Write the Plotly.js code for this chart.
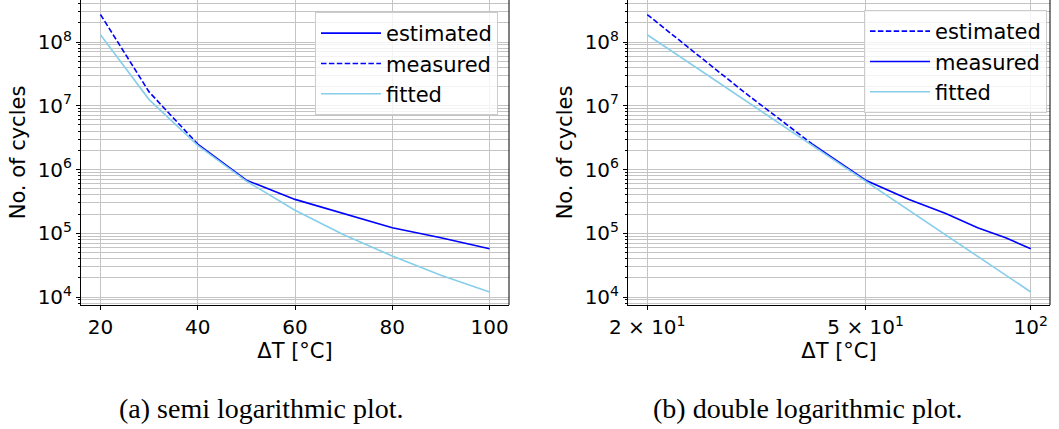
<!DOCTYPE html>
<html>
<head>
<meta charset="utf-8">
<script src="https://cdn.plot.ly/plotly-3.0.1.min.js"></script>
<style>
html,body{margin:0;padding:0;background:#fff;}
#chart{width:1059px;height:429px;}
</style>
</head>
<body>
<div id="chart"></div>
<script>
// Data
const deltaT = [20, 30, 40, 50, 60, 70, 80, 90, 100];
const cyclesData = [2.7e8, 1.65e7, 2.5e6, 6.8e5, 3.4e5, 2.05e5, 1.22e5, 8.5e4, 5.7e4];
const cyclesFitted = [1.3e8, 1.25e7, 2.4e6, 6.6e5, 2.3e5, 9.5e4, 4.4e4, 2.2e4, 1.2e4];
const splitIndex = 2; // dashed part covers deltaT[0..2], solid part deltaT[2..]

const yTickVals = [1e4, 1e5, 1e6, 1e7, 1e8];
const yTickText = ['10<sup>4</sup>', '10<sup>5</sup>', '10<sup>6</sup>', '10<sup>7</sup>', '10<sup>8</sup>'];
const xTickValsLin = [20, 40, 60, 80, 100];
const xTickTextLin = ['20', '40', '60', '80', '100'];
const xTickValsLog = [20, 50, 100];
const xTickTextLog = ['2 × 10<sup>1</sup>', '5 × 10<sup>1</sup>', '10<sup>2</sup>'];
const captions = ['(a) semi logarithmic plot.', '(b) double logarithmic plot.'];

const W = 1059, H = 429;
const BLUE = '#0000ff', SKY = '#87ceeb';
const DASH = '5.5px,2.4px';

const tHead = deltaT.slice(0, splitIndex + 1), dHead = cyclesData.slice(0, splitIndex + 1);
const tTail = deltaT.slice(splitIndex), dTail = cyclesData.slice(splitIndex);

const traces = [
  // left (semi log)
  {x: tTail, y: dTail, name: 'estimated', mode: 'lines', line: {color: BLUE, width: 1.6}, xaxis: 'x', yaxis: 'y', legend: 'legend'},
  {x: tHead, y: dHead, name: 'measured', mode: 'lines', line: {color: BLUE, width: 1.6, dash: DASH}, xaxis: 'x', yaxis: 'y', legend: 'legend'},
  {x: deltaT, y: cyclesFitted, name: 'fitted', mode: 'lines', line: {color: SKY, width: 1.6}, xaxis: 'x', yaxis: 'y', legend: 'legend'},
  // right (double log)
  {x: tHead, y: dHead, name: 'estimated', mode: 'lines', line: {color: BLUE, width: 1.6, dash: DASH}, xaxis: 'x2', yaxis: 'y2', legend: 'legend2'},
  {x: tTail, y: dTail, name: 'measured', mode: 'lines', line: {color: BLUE, width: 1.6}, xaxis: 'x2', yaxis: 'y2', legend: 'legend2'},
  {x: deltaT, y: cyclesFitted, name: 'fitted', mode: 'lines', line: {color: SKY, width: 1.6}, xaxis: 'x2', yaxis: 'y2', legend: 'legend2'}
];

const FONT = 'DejaVu Sans, sans-serif';
const GRID = '#c4c4c4';
const yBottom = 1 - 305 / H;
const dL = [81 / W, 509 / W];
const dR = [628 / W, 1050 / W];

function yAxis(anchor) {
  return {
    type: 'log', range: [3.875, 8.659], domain: [yBottom, 1], anchor: anchor,
    tickvals: yTickVals, ticktext: yTickText,
    showgrid: true, gridcolor: GRID, gridwidth: 1,
    showline: true, linecolor: '#000', linewidth: 1,
    ticks: 'outside', ticklen: 4, tickwidth: 1, tickcolor: '#000',
    tickfont: {family: FONT, size: 20, color: '#000'},
    minor: {showgrid: true, gridcolor: GRID, gridwidth: 1, ticks: 'outside', ticklen: 2, tickcolor: '#000', dtick: 'D1'},
    zeroline: false,
    title: {text: 'No. of cycles', font: {family: FONT, size: 21, color: '#000'}, standoff: 6},
    automargin: false
  };
}
function xTitle() {
  return {text: 'ΔT [°C]', font: {family: FONT, size: 21, color: '#000'}, standoff: 3};
}
function legendBox(xr, yt) {
  return {
    x: xr, y: yt, xanchor: 'right', yanchor: 'top',
    bgcolor: 'rgba(255,255,255,0.8)', bordercolor: '#cccccc', borderwidth: 1,
    font: {family: FONT, size: 21, color: '#000'}, traceorder: 'normal',
    itemwidth: 60, tracegroupgap: 0
  };
}

const layout = {
  width: W, height: H,
  margin: {l: 0, r: 0, t: 0, b: 0},
  paper_bgcolor: '#fff', plot_bgcolor: '#fff',
  showlegend: true,
  xaxis: {
    type: 'linear', range: [16, 104], domain: dL, anchor: 'y',
    tickvals: xTickValsLin, ticktext: xTickTextLin,
    showgrid: true, gridcolor: GRID, gridwidth: 1,
    showline: true, linecolor: '#000', linewidth: 1,
    ticks: 'outside', ticklen: 4, tickcolor: '#000',
    tickfont: {family: FONT, size: 20, color: '#000'},
    zeroline: false, title: xTitle(), automargin: false
  },
  yaxis: yAxis('x'),
  xaxis2: {
    type: 'log', range: [1.266, 2.035], domain: dR, anchor: 'y2',
    tickvals: xTickValsLog, ticktext: xTickTextLog,
    showgrid: true, gridcolor: GRID, gridwidth: 1,
    showline: true, linecolor: '#000', linewidth: 1,
    ticks: 'outside', ticklen: 4, tickcolor: '#000',
    tickfont: {family: FONT, size: 20, color: '#000'},
    zeroline: false, title: xTitle(), automargin: false
  },
  yaxis2: yAxis('x2'),
  legend: legendBox(498 / W, 1 - 12 / H),
  legend2: legendBox(1047 / W, 1 - 10 / H),
  shapes: [
    {type: 'line', xref: 'paper', yref: 'paper', x0: dL[1], x1: dL[1], y0: yBottom, y1: 1, line: {color: '#000', width: 1}},
    {type: 'line', xref: 'paper', yref: 'paper', x0: dR[1], x1: dR[1], y0: yBottom, y1: 1, line: {color: '#000', width: 1}}
  ],
  annotations: [
    {text: captions[0], xref: 'paper', yref: 'paper', x: 261 / W, y: 1 - 408 / H, xanchor: 'center', yanchor: 'middle', showarrow: false,
     font: {family: 'Liberation Serif, serif', size: 28, color: '#000'}},
    {text: captions[1], xref: 'paper', yref: 'paper', x: 808 / W, y: 1 - 408 / H, xanchor: 'center', yanchor: 'middle', showarrow: false,
     font: {family: 'Liberation Serif, serif', size: 28, color: '#000'}}
  ]
};

Plotly.newPlot('chart', traces, layout, {displayModeBar: false});
</script>
</body>
</html>
